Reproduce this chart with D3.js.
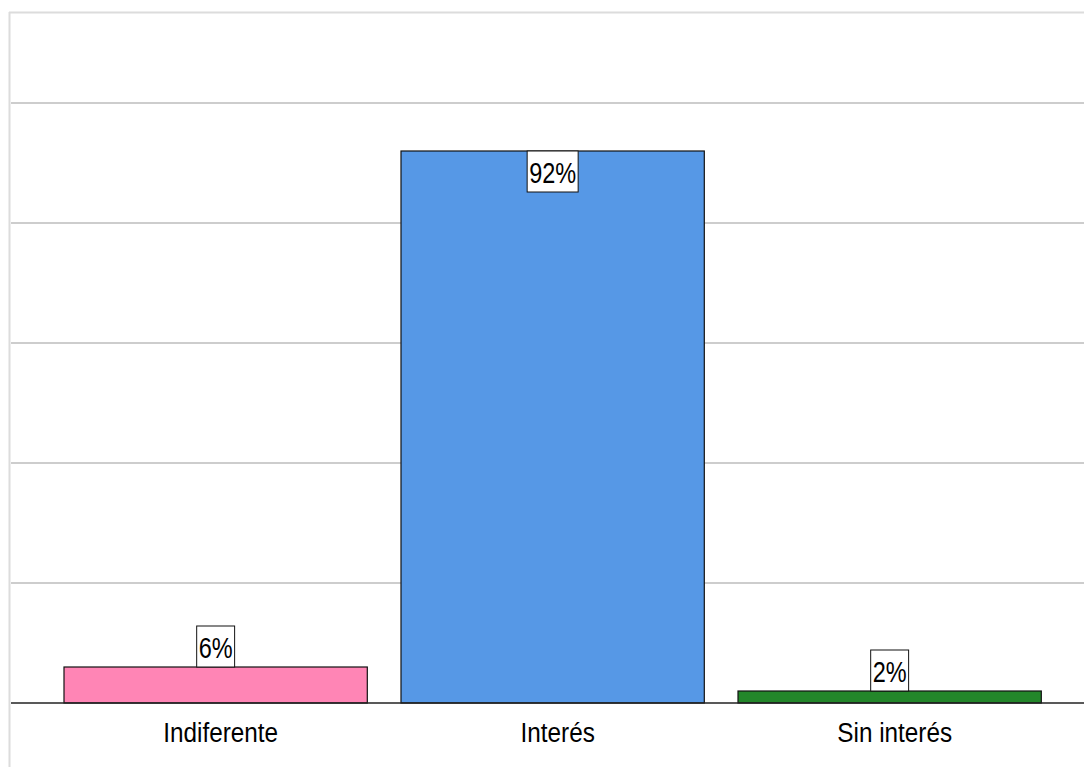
<!DOCTYPE html>
<html><head><meta charset="utf-8">
<script src="https://cdn.jsdelivr.net/npm/d3@7"></script>
<style>
html,body{margin:0;padding:0;background:#fff;}
text{font-family:"Liberation Sans Narrow","Arial Narrow","Liberation Sans",Arial,sans-serif;}
</style></head>
<body>
<svg id="chart" width="1084" height="767"></svg>
<script>
const categories = ["Indiferente", "Interés", "Sin interés"];
const values = [6, 92, 2];
const labels = ["6%", "92%", "2%"];
const colors = ["#FF85B5", "#5698E6", "#23862A"];
const gridTicks = [20, 40, 60, 80, 100];

(function () {
const svg = d3.select("#chart");
const W = 1084, H = 767;
const frameTop = 12;
const baseY = 703;

const y = d3.scaleLinear().domain([0, 100]).range([baseY, 103]);
const x = d3.scaleBand().domain(categories).range([30.3, 1075]).paddingInner(0.1).paddingOuter(0.1);

// frame
svg.append("line").attr("x1", 9.5).attr("x2", 9.5).attr("y1", frameTop).attr("y2", H).attr("stroke", "#dcdcdc").attr("stroke-width", 2);
svg.append("line").attr("x1", 9).attr("x2", W).attr("y1", frameTop + 0.5).attr("y2", frameTop + 0.5).attr("stroke", "#dcdcdc").attr("stroke-width", 2);

// grid
svg.append("g").selectAll("line").data(gridTicks).join("line")
  .attr("x1", 11).attr("x2", W)
  .attr("y1", d => y(d)).attr("y2", d => y(d))
  .attr("stroke", "#bdbdbd").attr("stroke-width", 1.5);

// bars
svg.append("g").selectAll("rect").data(categories).join("rect")
  .attr("x", d => x(d)).attr("width", x.bandwidth())
  .attr("y", (d, i) => y(values[i])).attr("height", (d, i) => baseY - y(values[i]))
  .attr("fill", (d, i) => colors[i]).attr("stroke", "#111").attr("stroke-width", 1.2);

// baseline
svg.append("line").attr("x1", 11).attr("x2", W).attr("y1", baseY).attr("y2", baseY).attr("stroke", "#222").attr("stroke-width", 1.5);

// x axis labels
const xAxis = d3.axisBottom(x).tickSize(0).tickPadding(39);
const gx = svg.append("g").attr("transform", `translate(0,${baseY})`).call(xAxis);
gx.select(".domain").remove();
gx.selectAll("text").attr("font-size", 27).attr("fill", "#000").attr("dy", "0")
  .attr("transform", "translate(5,0) scale(0.9,1)")
  .style("font-family", '"Liberation Sans Narrow","Arial Narrow","Liberation Sans",Arial,sans-serif');

// value labels
const lg = svg.append("g");
categories.forEach((c, i) => {
  const cx = x(c) + x.bandwidth() / 2;
  const boxH = 41;
  const inside = values[i] > 50;
  const by = inside ? y(values[i]) : y(values[i]) - boxH;
  const t = lg.append("text").attr("x", 0).attr("y", 0)
    .attr("transform", `translate(${cx},${by + 31.5}) scale(0.81,1)`)
    .attr("text-anchor", "middle").attr("font-size", 29).attr("fill", "#000").text(labels[i]);
  const bb = t.node().getBBox();
  const bw = bb.width * 0.81 + 4;
  lg.insert("rect", "text").attr("x", cx - bw / 2).attr("y", by).attr("width", bw).attr("height", boxH)
    .attr("fill", "#fff").attr("stroke", "#111").attr("stroke-width", 1);
});
})();
</script>
</body></html>
